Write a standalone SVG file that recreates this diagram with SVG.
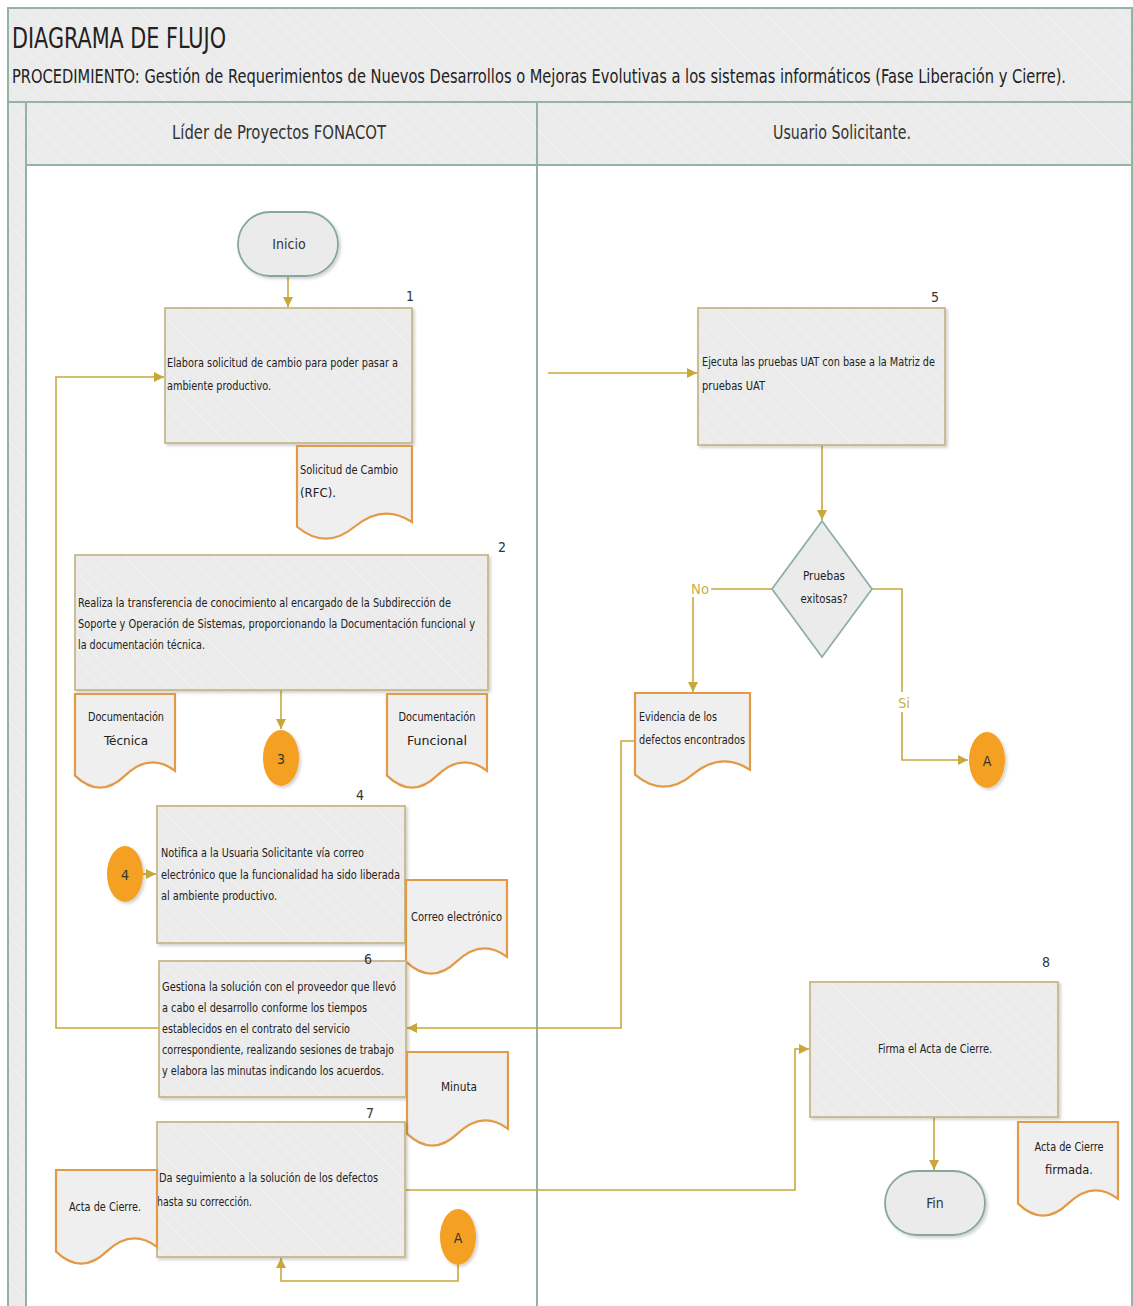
<svg xmlns="http://www.w3.org/2000/svg" width="1133" height="1306" viewBox="0 0 1133 1306">
<defs>
<pattern id="hatch" patternUnits="userSpaceOnUse" width="9" height="9" patternTransform="rotate(-45)">
<rect width="9" height="9" fill="#ebebeb"/>
<line x1="0" y1="0" x2="0" y2="9" stroke="#f4f4f4" stroke-width="1.5"/>
</pattern>
<filter id="sh" x="-5%" y="-5%" width="115%" height="115%">
<feDropShadow dx="2" dy="2" stdDeviation="1.5" flood-color="#000" flood-opacity="0.18"/>
</filter>
<marker id="arr" markerUnits="userSpaceOnUse" markerWidth="12" markerHeight="10" refX="10" refY="5" orient="auto">
<path d="M0,0 L10,5 L0,10 Z" fill="#c9a83a"/>
</marker>
</defs>
<style>
text{font-family:"DejaVu Sans Condensed","Liberation Sans Narrow","Liberation Sans",sans-serif;fill:#222;}
.t{font-size:13px;}
.h{font-size:19px;fill:#333;}
.num{font-size:14px;fill:#333;}
.box{fill:url(#hatch);stroke:#c6b98a;stroke-width:1.8;filter:url(#sh);}
.doc{fill:#efefef;stroke:#e39a45;stroke-width:2.2;}
.term{fill:#ebebeb;stroke:#86a89a;stroke-width:1.8;filter:url(#sh);}
.dia{fill:#ebebeb;stroke:#8fb0a7;stroke-width:1.8;}
.conn{fill:#f4a024;filter:url(#sh);}
.ct{font-size:14px;fill:#333;}
.ln{fill:none;stroke:#c9a83a;stroke-width:1.6;}
.lab{font-size:14px;fill:#c9b04a;}
.frame{fill:url(#hatch);stroke:#93b3a6;stroke-width:2;}
</style>

<g id="frame">
<rect x="8" y="8" width="1124" height="94" class="frame"/>
<rect x="8" y="102" width="18" height="1210" class="frame"/>
<rect x="26" y="102" width="511" height="63" class="frame"/>
<rect x="537" y="102" width="595" height="63" class="frame"/>
<rect x="26" y="165" width="511" height="1145" fill="#fff" stroke="#93b3a6" stroke-width="2"/>
<rect x="537" y="165" width="595" height="1145" fill="#fff" stroke="#93b3a6" stroke-width="2"/>
<text x="12" y="48" font-size="28" textLength="214" lengthAdjust="spacingAndGlyphs" fill="#222">DIAGRAMA DE FLUJO</text>
<text transform="translate(12,83) scale(1,1.27)" x="0" y="0" font-size="15" fill="#333" textLength="1054" lengthAdjust="spacingAndGlyphs">PROCEDIMIENTO: Gestión de Requerimientos de Nuevos Desarrollos o Mejoras Evolutivas a los sistemas informáticos (Fase Liberación y Cierre).</text>
<text x="172" y="139" class="h" textLength="214" lengthAdjust="spacingAndGlyphs">Líder de Proyectos FONACOT</text>
<text x="773" y="139" class="h" textLength="138" lengthAdjust="spacingAndGlyphs">Usuario Solicitante.</text>
</g>

<g id="connectors">
<path class="ln" d="M288,277 V307" marker-end="url(#arr)"/>
<path class="ln" d="M159,1028 H56 V377 H164" marker-end="url(#arr)"/>
<path class="ln" d="M281,690 V729" marker-end="url(#arr)"/>
<path class="ln" d="M143,874 H156" marker-end="url(#arr)"/>
<path class="ln" d="M548,373 H697" marker-end="url(#arr)"/>
<path class="ln" d="M822,445 V520" marker-end="url(#arr)"/>
<path class="ln" d="M772,589 H693 V692" marker-end="url(#arr)"/>
<path class="ln" d="M872,589 H902 V760 H968" marker-end="url(#arr)"/>
<path class="ln" d="M635,741 H621 V1028 H407" marker-end="url(#arr)"/>
<path class="ln" d="M405,1190 H795 V1049 H809" marker-end="url(#arr)"/>
<path class="ln" d="M934,1117 V1170" marker-end="url(#arr)"/>
<path class="ln" d="M458,1265 V1281 H281 V1258" marker-end="url(#arr)"/>
<rect x="689" y="579" width="22" height="18" fill="#fff"/>
<text x="691" y="594" class="lab" textLength="18" lengthAdjust="spacingAndGlyphs">No</text>
<rect x="896" y="692" width="18" height="20" fill="#fff"/>
<text x="898" y="708" class="lab" textLength="12" lengthAdjust="spacingAndGlyphs">Si</text>
</g>

<g id="inicio">
<rect x="238" y="212" width="100" height="64" rx="32" class="term"/>
<text x="289" y="249" class="ct" text-anchor="middle">Inicio</text>
</g>

<g id="step1">
<rect x="165" y="308" width="247" height="135" class="box"/>
<text x="406" y="301" class="num">1</text>
<text x="167" y="367" class="t" textLength="231" lengthAdjust="spacingAndGlyphs">Elabora solicitud de cambio  para poder pasar a</text>
<text x="167" y="390" class="t" textLength="104" lengthAdjust="spacingAndGlyphs">ambiente productivo.</text>
</g>

<g id="doc-rfc">
<path class="doc" d="M297,446 H412 V522 Q383.25,503 354.5,526.75 T297,526.75 Z"/>
<text x="300" y="474" class="t" textLength="98" lengthAdjust="spacingAndGlyphs">Solicitud de Cambio</text>
<text x="300" y="497" class="t" textLength="36" lengthAdjust="spacingAndGlyphs">(RFC).</text>
</g>

<g id="step2">
<rect x="75" y="555" width="413" height="135" class="box"/>
<text x="498" y="552" class="num">2</text>
<text x="78" y="607" class="t" textLength="373" lengthAdjust="spacingAndGlyphs">Realiza la transferencia de conocimiento al encargado de la Subdirección de</text>
<text x="78" y="628" class="t" textLength="397" lengthAdjust="spacingAndGlyphs">Soporte y Operación de Sistemas, proporcionando la Documentación funcional y</text>
<text x="78" y="649" class="t" textLength="127" lengthAdjust="spacingAndGlyphs">la documentación técnica.</text>
</g>

<g id="doc-tecnica">
<path class="doc" d="M75,694 H175 V770.8 Q150,751.6 125,775.6 T75,775.6 Z"/>
<text x="126" y="721" class="t" text-anchor="middle" textLength="76" lengthAdjust="spacingAndGlyphs">Documentación</text>
<text x="126" y="745" class="t" text-anchor="middle" textLength="44" lengthAdjust="spacingAndGlyphs">Técnica</text>
</g>

<g id="doc-funcional">
<path class="doc" d="M387,694 H487 V770.8 Q462,751.6 437,775.6 T387,775.6 Z"/>
<text x="437" y="721" class="t" text-anchor="middle" textLength="77" lengthAdjust="spacingAndGlyphs">Documentación</text>
<text x="437" y="745" class="t" text-anchor="middle" textLength="60" lengthAdjust="spacingAndGlyphs">Funcional</text>
</g>

<g id="conn-3">
<ellipse cx="281" cy="758" rx="18" ry="28" class="conn"/>
<text x="281" y="764" class="ct" text-anchor="middle">3</text>
</g>

<g id="step4">
<rect x="157" y="806" width="248" height="137" class="box"/>
<text x="356" y="800" class="num">4</text>
<text x="161" y="857" class="t" textLength="203" lengthAdjust="spacingAndGlyphs">Notifica a la Usuaria Solicitante vía correo</text>
<text x="161" y="879" class="t" textLength="239" lengthAdjust="spacingAndGlyphs">electrónico que la funcionalidad ha sido liberada</text>
<text x="161" y="900" class="t" textLength="116" lengthAdjust="spacingAndGlyphs">al ambiente productivo.</text>
</g>

<g id="conn-4">
<ellipse cx="125" cy="874" rx="18" ry="28" class="conn"/>
<text x="125" y="880" class="ct" text-anchor="middle">4</text>
</g>

<g id="doc-correo">
<path class="doc" d="M406,880 H507 V956.8 Q481.75,937.6 456.5,961.6 T406,961.6 Z"/>
<text x="411" y="921" class="t" textLength="91" lengthAdjust="spacingAndGlyphs">Correo electrónico</text>
</g>

<g id="step6">
<rect x="159" y="961" width="247" height="136" class="box"/>
<text x="364" y="964" class="num">6</text>
<text x="162" y="991" class="t" textLength="234" lengthAdjust="spacingAndGlyphs">Gestiona la solución con el  proveedor que llevó</text>
<text x="162" y="1012" class="t" textLength="205" lengthAdjust="spacingAndGlyphs">a cabo el desarrollo conforme los tiempos</text>
<text x="162" y="1033" class="t" textLength="188" lengthAdjust="spacingAndGlyphs">establecidos en el contrato del servicio</text>
<text x="162" y="1054" class="t" textLength="232" lengthAdjust="spacingAndGlyphs">correspondiente, realizando sesiones de trabajo</text>
<text x="162" y="1075" class="t" textLength="222" lengthAdjust="spacingAndGlyphs">y elabora las minutas indicando los acuerdos.</text>
</g>

<g id="doc-minuta">
<path class="doc" d="M407,1052 H508 V1128.8 Q482.75,1109.6 457.5,1133.6 T407,1133.6 Z"/>
<text x="441" y="1091" class="t" textLength="36" lengthAdjust="spacingAndGlyphs">Minuta</text>
</g>

<g id="step7">
<rect x="157" y="1122" width="248" height="135" class="box"/>
<text x="366" y="1118" class="num">7</text>
<text x="159" y="1182" class="t" textLength="219" lengthAdjust="spacingAndGlyphs">Da seguimiento a la solución de los defectos</text>
<text x="157" y="1206" class="t" textLength="95" lengthAdjust="spacingAndGlyphs">hasta su corrección.</text>
</g>

<g id="doc-acta">
<path class="doc" d="M56,1170 H157 V1246.8 Q131.75,1227.6 106.5,1251.6 T56,1251.6 Z"/>
<text x="69" y="1211" class="t" textLength="72" lengthAdjust="spacingAndGlyphs">Acta de Cierre.</text>
</g>

<g id="conn-a-bottom">
<ellipse cx="458" cy="1237" rx="18" ry="28" class="conn"/>
<text x="458" y="1243" class="ct" text-anchor="middle">A</text>
</g>

<g id="step5">
<rect x="698" y="308" width="247" height="137" class="box"/>
<text x="931" y="302" class="num">5</text>
<text x="702" y="366" class="t" textLength="233" lengthAdjust="spacingAndGlyphs">Ejecuta las pruebas UAT con base a la Matriz de</text>
<text x="702" y="390" class="t" textLength="63" lengthAdjust="spacingAndGlyphs">pruebas UAT</text>
</g>

<g id="decision">
<path class="dia" d="M822,521 L872,589 L822,657 L772,589 Z"/>
<text x="824" y="580" class="t" text-anchor="middle" textLength="42" lengthAdjust="spacingAndGlyphs">Pruebas</text>
<text x="824" y="603" class="t" text-anchor="middle" textLength="47" lengthAdjust="spacingAndGlyphs">exitosas?</text>
</g>

<g id="doc-evidencia">
<path class="doc" d="M635,693 H750 V769.8 Q721.25,750.6 692.5,774.6 T635,774.6 Z"/>
<text x="639" y="721" class="t" textLength="78" lengthAdjust="spacingAndGlyphs">Evidencia de los</text>
<text x="639" y="744" class="t" textLength="106" lengthAdjust="spacingAndGlyphs">defectos encontrados</text>
</g>

<g id="conn-a-right">
<ellipse cx="987" cy="760" rx="18" ry="28" class="conn"/>
<text x="987" y="766" class="ct" text-anchor="middle">A</text>
</g>

<g id="step8">
<rect x="810" y="982" width="248" height="135" class="box"/>
<text x="1042" y="967" class="num">8</text>
<text x="935" y="1053" class="t" text-anchor="middle" textLength="114" lengthAdjust="spacingAndGlyphs">Firma el Acta de Cierre.</text>
</g>

<g id="fin">
<rect x="885" y="1171" width="100" height="64" rx="32" class="term"/>
<text x="935" y="1208" class="ct" text-anchor="middle">Fin</text>
</g>

<g id="doc-acta-firmada">
<path class="doc" d="M1018,1122 H1118 V1198.8 Q1093,1179.6 1068,1203.6 T1018,1203.6 Z"/>
<text x="1069" y="1151" class="t" text-anchor="middle" textLength="69" lengthAdjust="spacingAndGlyphs">Acta de Cierre</text>
<text x="1069" y="1174" class="t" text-anchor="middle" textLength="48" lengthAdjust="spacingAndGlyphs">firmada.</text>
</g>
</svg>
